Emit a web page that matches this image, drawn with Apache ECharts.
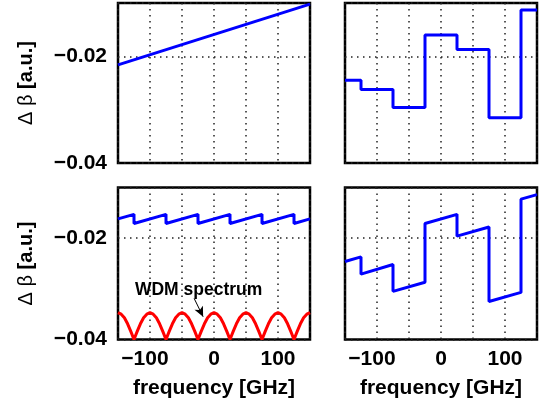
<!DOCTYPE html>
<html>
<head>
<meta charset="utf-8">
<script src="https://cdn.jsdelivr.net/npm/echarts@6/dist/echarts.min.js"></script>
<style>
html,body{margin:0;padding:0;background:#fff;}
#chart{width:542px;height:411px;}
</style>
</head>
<body>
<div id="chart"></div>
<script>
// ---- data ----
const xTickLabels = [-100, 0, 100];
const yTickLabels = [-0.04, -0.02];

// top-left: linear walk-off
const lineFreq = [-150, 150];
const lineVal  = [-0.0216, -0.0102];

// top-right: per-channel staircase
const stepFreq = [-150, -125, -125, -75, -75, -25, -25, 25, 25, 75, 75, 125, 125, 150];
const stepVal  = [-0.0245, -0.0245, -0.0262, -0.0262, -0.0296, -0.0296, -0.0160, -0.0160,
                  -0.0187, -0.0187, -0.0315, -0.0315, -0.0113, -0.0113];

// bottom-left: sawtooth
const sawFreq = [-150, -125, -125, -75, -75, -25, -25, 25, 25, 75, 75, 125, 125, 150];
const sawVal  = [-0.0162, -0.0153, -0.0171, -0.0153, -0.0171, -0.0153, -0.0171, -0.0153,
                 -0.0171, -0.0153, -0.0171, -0.0153, -0.0171, -0.0162];

// bottom-left: WDM spectrum (red)
const wdmFreq = [-150,-145,-140,-135,-130,-125,-120,-115,-110,-105,
                 -100,-95,-90,-85,-80,-75,-70,-65,-60,-55,
                 -50,-45,-40,-35,-30,-25,-20,-15,-10,-5,
                 0,5,10,15,20,25,30,35,40,45,
                 50,55,60,65,70,75,80,85,90,95,
                 100,105,110,115,120,125,130,135,140,145,150];
const wdmVal  = [-0.0347,-0.0350,-0.0357,-0.0369,-0.0384,-0.0400,-0.0384,-0.0369,-0.0357,-0.0350,
                 -0.0347,-0.0350,-0.0357,-0.0369,-0.0384,-0.0400,-0.0384,-0.0369,-0.0357,-0.0350,
                 -0.0347,-0.0350,-0.0357,-0.0369,-0.0384,-0.0400,-0.0384,-0.0369,-0.0357,-0.0350,
                 -0.0347,-0.0350,-0.0357,-0.0369,-0.0384,-0.0400,-0.0384,-0.0369,-0.0357,-0.0350,
                 -0.0347,-0.0350,-0.0357,-0.0369,-0.0384,-0.0400,-0.0384,-0.0369,-0.0357,-0.0350,
                 -0.0347,-0.0350,-0.0357,-0.0369,-0.0384,-0.0400,-0.0384,-0.0369,-0.0357,-0.0350,-0.0347];

// bottom-right: staircase + sawtooth
const combFreq = [-150, -125, -125, -75, -75, -25, -25, 25, 25, 75, 75, 125, 125, 150];
const combVal  = [-0.0246, -0.0237, -0.0271, -0.0252, -0.0305, -0.0287, -0.0171, -0.0153,
                  -0.0196, -0.0178, -0.0325, -0.0307, -0.0123, -0.0114];

// annotation
const annoText = 'WDM spectrum';
const annoTextAt = [-24, -0.0303];
const annoArrowFrom = [-31, -0.0319];
const annoArrowTo = [-17, -0.0355];

// ---- chart ----
const FONT = '"Liberation Sans", Arial, Helvetica, sans-serif';
const pair = (xs, ys) => xs.map((x, i) => [x, ys[i]]);
const minus = s => s.replace('-', '\u2212');

const grids = [
  {left: 118, top: 3, width: 192, height: 160},
  {left: 345, top: 3, width: 192, height: 160},
  {left: 118, top: 187.5, width: 192, height: 152},
  {left: 345, top: 187.5, width: 192, height: 152}
].map(g => Object.assign(g, {show: true, borderColor: '#000', borderWidth: 2.5, backgroundColor: '#fff'}));

const dotted = {show: true, lineStyle: {type: [1.5, 4.5], color: '#222', width: 1.5}};
const tickStyle = {color: '#000', fontSize: 21, fontWeight: 'bold', fontFamily: FONT};

const xAxes = [0, 1, 2, 3].map(i => ({
  gridIndex: i, type: 'value', min: -150, max: 150, interval: 50,
  axisLine: {show: false}, axisTick: {show: false}, splitLine: dotted,
  axisLabel: Object.assign({
    show: i >= 2, margin: 9,
    formatter: v => xTickLabels.indexOf(v) >= 0
      ? (v < 0 ? '{n|' + minus(String(v)) + '}' : String(v)) : '',
    rich: {n: Object.assign({padding: [0, 10, 0, 0]}, tickStyle)}
  }, tickStyle),
  name: i >= 2 ? 'frequency [GHz]' : '',
  nameLocation: 'middle', nameGap: 38,
  nameTextStyle: {color: '#000', fontSize: 21, fontWeight: 'bold', fontFamily: FONT}
}));

const yAxes = [0, 1, 2, 3].map(i => ({
  gridIndex: i, type: 'value', min: -0.04, max: -0.01, interval: 0.02,
  axisLine: {show: false}, axisTick: {show: false}, splitLine: dotted,
  axisLabel: Object.assign({
    show: i % 2 === 0, margin: 11,
    formatter: v => {
      const t = yTickLabels.find(t => Math.abs(t - v) < 1e-9);
      return t === undefined ? '' : minus(t.toFixed(2));
    }
  }, tickStyle),
  name: i % 2 === 0 ? '{d|\u0394 \u03B2 }{b|[a.u.]}' : '',
  nameLocation: 'middle', nameGap: 82,
  nameTextStyle: {
    color: '#000', fontFamily: FONT,
    rich: {
      d: {fontSize: 20, fontWeight: 'normal', color: '#000', fontFamily: FONT},
      b: {fontSize: 20, fontWeight: 'bold', color: '#000', fontFamily: FONT}
    }
  }
}));

const lineSeries = (idx, data, color) => ({
  type: 'line', xAxisIndex: idx, yAxisIndex: idx, data: data,
  showSymbol: false, symbol: 'none', clip: false, silent: true,
  lineStyle: {color: color, width: 3}, z: 3
});

const redSeries = lineSeries(2, pair(wdmFreq, wdmVal), '#ff0000');
redSeries.markPoint = {
  silent: true, symbol: 'circle', symbolSize: 0,
  data: [{coord: annoTextAt}],
  label: {show: true, position: 'inside', formatter: annoText, color: '#000',
          fontSize: 17.5, fontWeight: 'bold', fontFamily: FONT}
};
redSeries.markLine = {
  silent: true, symbol: ['none', 'arrow'], symbolSize: [7, 10],
  lineStyle: {color: '#000', width: 1, type: 'solid'},
  label: {show: false},
  data: [[{coord: annoArrowFrom}, {coord: annoArrowTo}]]
};

const option = {
  animation: false,
  backgroundColor: '#fff',
  grid: grids,
  xAxis: xAxes,
  yAxis: yAxes,
  series: [
    lineSeries(0, pair(lineFreq, lineVal), '#0000ff'),
    lineSeries(1, pair(stepFreq, stepVal), '#0000ff'),
    lineSeries(2, pair(sawFreq, sawVal), '#0000ff'),
    redSeries,
    lineSeries(3, pair(combFreq, combVal), '#0000ff')
  ]
};

const chart = echarts.init(document.getElementById('chart'), null, {renderer: 'canvas'});
chart.setOption(option);
</script>
</body>
</html>
